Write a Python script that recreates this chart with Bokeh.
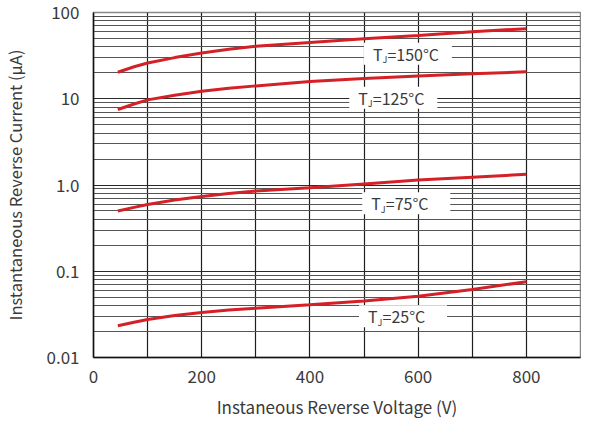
from bokeh.plotting import figure
from bokeh.models import FixedTicker, Label, ColumnDataSource
from bokeh.embed import file_html
from bokeh.resources import INLINE

voltage = [45, 75, 100, 150, 200, 250, 300, 400, 500, 600, 700, 800]
i_150 = [20.3, 23.5, 26, 30, 34, 37.5, 40.5, 45, 49.5, 54, 60, 65]
i_125 = [7.5, 8.7, 9.7, 11.0, 12.2, 13.2, 14.1, 15.8, 17.2, 18.4, 19.5, 20.5]
i_75 = [0.50, 0.55, 0.595, 0.67, 0.735, 0.795, 0.85, 0.93, 1.03, 1.14, 1.23, 1.33]
i_25 = [0.0233, 0.0256, 0.0276, 0.0306, 0.0333, 0.0355, 0.0372, 0.0409, 0.0453, 0.0514, 0.0615, 0.0755]

label_temps = ["150", "125", "75", "25"]
label_x = [581, 554, 578, 572]
label_y = [33.3, 10.3, 0.615, 0.030]

x_ticks = [0, 200, 400, 600, 800]
x_grid = [0, 100, 200, 300, 400, 500, 600, 700, 800, 900]
y_ticks = [0.01, 0.1, 1, 10, 100]
y_tick_labels = ["0.01", "0.1", "1.0", "10", "100"]
y_minor = [m * d for d in [0.01, 0.1, 1, 10] for m in range(2, 10)]

FONT = "Noto Sans CJK SC"
TXT = "#3a3a3a"
RED = "#d42027"

p = figure(width=581, height=421, output_backend="svg", toolbar_location=None,
           x_range=(0, 900), y_range=(0.01, 100), y_axis_type="log",
           min_border_left=10, min_border_right=1, min_border_top=12, min_border_bottom=0)
p.outline_line_color = "#888888"
p.outline_line_width = 1.5
p.background_fill_color = "white"

p.xaxis.ticker = FixedTicker(ticks=x_ticks)
p.yaxis.ticker = FixedTicker(ticks=y_ticks, minor_ticks=y_minor)
p.yaxis.major_label_overrides = {t: l for t, l in zip(y_ticks, y_tick_labels)}
p.xgrid.ticker = FixedTicker(ticks=x_grid)
p.ygrid.ticker = FixedTicker(ticks=y_ticks, minor_ticks=y_minor)

p.xgrid.grid_line_color = "#1e1e1e"
p.xgrid.grid_line_width = 1.2
p.ygrid.grid_line_color = "#2a2a2a"
p.ygrid.grid_line_width = 1.2
p.ygrid.minor_grid_line_color = "#555555"
p.ygrid.minor_grid_line_width = 1.2

for ax in (p.xaxis, p.yaxis):
    ax.axis_line_color = "#111111"
    ax.axis_line_width = 1.5
    ax.major_tick_line_color = None
    ax.minor_tick_line_color = None
    ax.major_label_text_font = FONT
    ax.major_label_text_font_size = "17px"
    ax.major_label_text_color = TXT
    ax.axis_label_text_font = FONT
    ax.axis_label_text_color = TXT
    ax.axis_label_text_font_style = "normal"

p.xaxis.axis_label = "Instaneous Reverse Voltage (V)"
p.yaxis.axis_label = "Instantaneous Reverse Current (\u00b5A)"
p.xaxis.axis_label_text_font_size = "17px"
p.yaxis.axis_label_text_font_size = "16.5px"
p.xaxis.major_label_standoff = 6
p.yaxis.major_label_standoff = 8
p.xaxis.axis_label_standoff = 8
p.yaxis.axis_label_standoff = 16

for ys in (i_150, i_125, i_75, i_25):
    p.line(voltage, ys, line_color=RED, line_width=3)

src = ColumnDataSource(dict(x=label_x, y=label_y))
p.rect(x="x", y="y", width=88, height=22, width_units="screen", height_units="screen",
       source=src, fill_color="white", line_color=None)

for t, lx, ly in zip(label_temps, label_x, label_y):
    p.add_layout(Label(x=lx, y=ly, x_offset=-35, text="T", text_font=FONT,
                       text_font_size="16px", text_color=TXT, text_baseline="middle"))
    p.add_layout(Label(x=lx, y=ly, x_offset=-25.5, y_offset=-6, text="J", text_font=FONT,
                       text_font_size="9px", text_color=TXT, text_baseline="middle"))
    p.add_layout(Label(x=lx, y=ly, x_offset=-20.5, text="=" + t + "\u00b0C", text_font=FONT,
                       text_font_size="16px", text_color=TXT, text_baseline="middle"))

open("out.html", "w").write(file_html(p, INLINE))
